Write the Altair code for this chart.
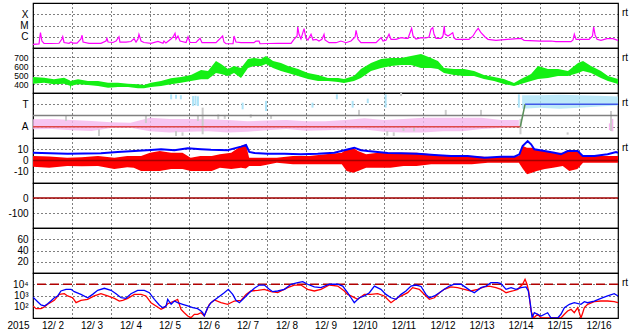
import altair as alt
import pandas as pd

FONT = "Liberation Sans"
FS = 10
W, H = 585, 45

# ---------------- data (hours since 2015-12-02 00:00 UT) ----------------
DAY_TICKS = list(range(0, 360, 24))

# GOES X-ray flux, log10 W/m^2
XRAY = [(0.0, -6.67), (3.7, -6.64), (4.3, -5.93), (4.6, -5.64), (5.5, -6.38), (6.8, -6.60), (11.1, -6.60),
        (16.0, -6.58), (17.8, -6.20), (18.3, -6.00), (19.1, -6.51), (22.2, -6.58), (23.4, -6.47), (24.6, -6.56),
        (27.1, -6.56), (29.5, -6.20), (30.2, -5.87), (30.8, -6.47), (34.5, -6.58), (41.8, -6.58), (44.9, -6.38),
        (45.5, -6.14), (46.2, -6.47), (49.2, -6.51), (51.1, -6.38), (52.9, -6.00), (53.5, -6.47), (57.2, -6.47),
        (60.3, -6.42), (62.2, -6.17), (63.4, -6.47), (64.6, -6.20), (65.2, -5.78), (66.5, -6.38), (68.3, -6.51),
        (72.6, -6.58), (76.9, -6.42), (80.0, -6.58), (80.6, -6.38), (81.8, -6.56), (84.9, -6.20), (86.2, -6.02),
        (87.4, -5.69), (88.0, -6.20), (89.2, -5.93), (90.5, -6.38), (94.2, -6.51), (95.4, -6.00), (96.6, -6.51),
        (100.3, -6.51), (102.8, -6.14), (104.0, -6.53), (112.6, -6.53), (116.7, -5.93), (117.5, -6.47),
        (118.8, -6.62), (123.1, -6.62), (123.7, -5.93), (124.9, -6.47), (128.0, -6.53), (136.0, -6.53),
        (137.2, -6.38), (139.1, -6.38), (139.7, -6.62), (150.8, -6.58), (158.8, -6.58), (160.6, -6.23),
        (162.5, -5.93), (162.9, -5.13), (163.7, -5.78), (164.9, -6.20), (166.8, -5.28), (168.0, -6.14),
        (169.2, -6.29), (171.1, -5.78), (172.3, -6.29), (174.2, -6.23), (176.0, -6.38), (177.8, -6.23),
        (179.1, -5.78), (179.7, -6.29), (182.2, -6.53), (186.5, -6.53), (189.5, -6.38), (192.6, -6.53),
        (195.7, -6.38), (198.2, -6.02), (198.8, -5.43), (200.0, -6.23), (201.8, -6.53), (211.1, -6.53),
        (214.2, -6.08), (215.4, -6.38), (217.2, -6.32), (219.1, -5.78), (220.3, -6.23), (223.4, -6.23),
        (226.5, -6.08), (229.5, -6.14), (230.8, -6.14), (233.0, -5.25), (233.9, -5.93), (235.7, -6.20),
        (238.8, -6.08), (241.8, -6.11), (243.7, -6.02), (244.9, -5.34), (246.0, -5.20), (246.8, -5.78),
        (248.0, -6.14), (251.1, -6.14), (252.3, -5.93), (253.1, -5.04), (253.5, -5.76), (255.4, -5.93),
        (257.2, -5.76), (258.3, -5.64), (259.1, -6.11), (260.3, -6.23), (268.3, -6.23), (270.8, -5.93),
        (272.6, -5.49), (274.0, -5.25), (275.7, -5.64), (278.2, -6.02), (280.0, -6.23), (284.9, -6.32),
        (300.3, -6.14), (302.2, -6.32), (312.6, -6.38), (318.8, -6.38), (321.8, -6.44), (331.1, -6.44),
        (332.3, -6.29), (333.1, -5.78), (334.2, -6.23), (342.2, -6.23), (344.3, -5.93), (345.0, -5.13),
        (345.9, -5.84), (347.1, -6.23), (349.5, -6.32), (353.2, -6.17), (356.9, -6.17), (360.0, -6.32)]

# solar wind speed km/s: (hour, low, high)
SPEED = [(0.0, 403, 478), (6.8, 414, 470), (12.9, 397, 452), (19.1, 403, 470), (22.8, 380, 440), (23.1, 325, 430),
         (23.5, 380, 435), (27.7, 397, 452), (33.8, 389, 433), (40.0, 378, 433), (46.2, 359, 414), (52.3, 367, 414),
         (58.5, 367, 403), (64.6, 352, 397), (68.3, 352, 389), (72.6, 367, 414), (78.8, 378, 433), (84.9, 397, 463),
         (91.1, 414, 478), (97.2, 433, 500), (103.4, 452, 555), (107.7, 452, 544), (112.6, 522, 656),
         (115.7, 511, 622), (120.0, 489, 567), (123.7, 522, 600), (128.0, 467, 578), (132.3, 578, 678),
         (136.0, 600, 689), (140.3, 600, 678), (143.4, 622, 711), (147.7, 578, 656), (152.6, 544, 633),
         (156.9, 522, 600), (163.1, 489, 567), (169.2, 456, 522), (175.4, 433, 500), (181.5, 433, 467),
         (187.7, 422, 467), (191.4, 411, 456), (197.5, 433, 489), (201.8, 467, 567), (208.0, 544, 633),
         (214.2, 578, 678), (220.3, 600, 689), (226.5, 611, 689), (232.6, 611, 711), (238.8, 578, 733),
         (244.9, 578, 689), (249.2, 567, 656), (252.9, 522, 578), (259.1, 500, 567), (265.2, 489, 567),
         (271.4, 489, 544), (277.5, 456, 500), (283.7, 433, 478), (289.8, 400, 456), (296.0, 378, 411),
         (300.3, 400, 456), (306.5, 433, 511), (310.8, 456, 600), (316.9, 467, 567), (323.1, 489, 567),
         (329.2, 489, 544), (335.4, 522, 633), (338.5, 544, 656), (343.4, 522, 600), (349.5, 467, 544),
         (353.8, 433, 489), (360.0, 400, 456)]

# IMF sector: away (A=1) / toward (T=3) scatter bands: (hour, low, high)
AWAY_BAND = [(0, 0.77, 1.66), (12, 0.8, 1.7), (24, 0.7, 1.6), (36, 0.62, 1.51), (48, 0.9, 1.4), (60, 0.92, 1.36),
             (72, 0.6, 1.8), (84, 0.5, 1.7), (96, 0.55, 1.7), (108, 0.6, 1.66), (120, 0.5, 1.6), (132, 0.55, 1.5),
             (144, 0.7, 1.55), (156, 0.8, 1.6), (168, 0.65, 1.5), (180, 0.7, 1.5), (192, 0.75, 1.6),
             (204, 0.75, 1.75), (216, 0.55, 1.6), (228, 0.5, 1.7), (240, 0.5, 1.8), (252, 0.6, 1.8),
             (264, 0.6, 1.8), (276, 0.8, 1.8), (288, 0.9, 1.6), (299, 1.0, 1.6)]
TOWARD_BAND = [(301, 2.6, 3.8), (312, 2.7, 3.8), (324, 2.6, 3.85), (336, 2.7, 3.8), (348, 2.8, 3.75),
               (360, 2.9, 3.7)]
TOWARD_PTS = [(85.0, 3.44, 3.88), (88.0, 3.5, 3.85), (91.0, 3.44, 3.8), (98.5, 2.84, 3.73), (100.0, 2.9, 3.75),
              (101.5, 2.84, 3.7), (129.0, 2.55, 3.14), (143.4, 2.4, 3.3), (172.0, 2.7, 3.14), (187.0, 3.44, 3.88),
              (196.7, 2.7, 3.3), (206.0, 3.1, 3.5), (217.0, 2.7, 3.88), (299.0, 2.7, 3.88)]
AWAY_PTS = [(355.0, 0.7, 1.3), (356.5, 0.6, 1.7)]
GRAY_PTS = [(20.3, 1.51, 1.96), (40.6, 0.18, 0.77), (69.5, 1.33, 1.96), (88.0, 0.18, 0.62), (92.0, 0.2, 0.5),
            (101.5, 1.51, 1.96), (104.4, 0.33, 2.7), (114.0, 1.66, 2.1), (118.0, 1.7, 2.05), (134.0, 1.8, 2.1),
            (146.5, 1.7, 2.0), (200.6, 1.96, 2.5), (218.0, 0.2, 0.62), (222.0, 0.18, 0.5), (226.5, 3.73, 4.0),
            (228.0, 0.62, 0.9), (234.5, 0.6, 0.9), (254.0, 1.96, 2.5), (275.7, 2.0, 2.5), (300.0, 0.33, 1.7),
            (329.0, 0.3, 0.5), (355.7, 0.62, 2.4)]
SECTOR_H = [0.0, 299.9, 302.8, 360.0]
SECTOR_S = [1, 1, 3, 3]

# IMF Bt (nT)
BT = [(0.0, 6.9), (21.3, 6.0), (41.8, 6.4), (52.1, 7.6), (62.4, 8.4), (72.6, 9.3), (78.8, 10.0), (87.0, 9.1),
      (95.2, 10.8), (103.4, 10.0), (109.5, 9.5), (119.8, 9.1), (123.9, 10.8), (128.0, 12.3), (131.1, 13.8),
      (133.1, 7.6), (136.2, 6.7), (144.4, 6.0), (154.7, 6.0), (164.9, 5.5), (175.2, 6.0), (185.4, 6.9),
      (191.6, 9.1), (197.7, 11.4), (201.8, 9.1), (206.0, 8.4), (212.1, 7.6), (218.3, 6.7), (226.5, 6.4),
      (236.7, 6.0), (247.0, 4.9), (257.2, 4.0), (267.5, 4.0), (277.7, 2.5), (288.0, 3.4), (296.2, 3.4),
      (299.3, 5.5), (301.3, 12.9), (304.4, 17.3), (306.5, 14.4), (308.5, 10.0), (314.7, 8.4), (320.8, 6.9),
      (324.9, 5.5), (329.0, 8.4), (335.2, 8.4), (338.3, 4.0), (345.4, 4.0), (353.6, 5.5), (358.8, 7.6),
      (360.0, 6.9)]
# IMF Bz range (nT): (hour, low, high)
BZ = [(0.0, -5.5, 4.0), (10.0, -6.4, 3.5), (21.0, -4.9, 2.5), (30.0, -5.0, 3.0), (40.0, -4.9, 4.0),
      (50.0, -7.6, 2.5), (58.0, -6.0, 4.0), (62.0, -6.4, 4.0), (66.5, -9.3, 4.0), (72.0, -9.3, 6.9),
      (78.0, -9.3, 8.4), (85.0, -7.6, 6.9), (92.0, -7.6, 6.9), (97.0, -9.3, 2.5), (103.0, -9.3, 4.0),
      (110.0, -9.3, 4.0), (115.0, -6.4, 5.5), (122.0, -7.6, 6.9), (128.0, -6.4, 12.9), (131.0, -7.0, 14.4),
      (133.0, -4.9, 2.5), (140.0, -4.9, 2.5), (150.0, -1.9, 2.5), (160.0, -3.4, 4.0), (170.0, -3.4, 4.0),
      (180.0, -3.4, 5.5), (190.0, -3.4, 6.9), (193.0, -9.3, 10.0), (197.0, -10.8, 11.4), (200.0, -9.3, 8.4),
      (205.0, -6.4, 5.5), (212.0, -6.4, 6.9), (220.0, -6.4, 6.9), (228.0, -4.9, 6.9), (236.0, -4.9, 6.9),
      (245.0, -3.4, 5.5), (255.0, -3.4, 4.0), (270.0, -3.4, 4.0), (280.0, -1.9, 3.1), (290.0, -1.9, 3.1),
      (299.0, -1.9, 4.0), (301.5, -7.6, 12.9), (304.0, -12.3, 11.4), (307.0, -10.8, 11.4), (310.0, -9.3, 10.0),
      (315.0, -7.6, 8.4), (320.0, -6.4, 6.9), (326.0, -4.9, 6.9), (330.0, -9.3, 8.4), (335.0, -7.6, 8.4),
      (338.5, -1.9, 4.0), (345.0, -1.9, 4.0), (352.0, -1.9, 4.0), (360.0, -1.9, 4.0)]

# >2 MeV electron flux, log10 (two satellites)
E_BLUE = [(0.0, 2.85), (2.87, 2.45), (4.93, 2.16), (6.98, 2.07), (9.03, 2.27), (11.0, 2.51), (13.1, 2.8),
          (15.2, 2.96), (17.2, 3.4), (20.3, 3.55), (23.4, 3.55), (25.4, 3.34), (29.5, 3.1), (33.6, 2.8),
          (36.7, 3.1), (39.8, 3.46), (43.9, 3.64), (48.0, 3.46), (51.1, 3.16), (54.2, 2.8), (57.2, 2.75),
          (60.3, 3.16), (64.4, 3.46), (68.5, 3.46), (71.6, 3.25), (74.7, 2.66), (77.7, 2.16), (79.8, 1.92),
          (81.9, 2.07), (82.9, 2.66), (85.0, 2.22), (87.0, 2.51), (89.0, 2.36), (92.1, 2.22), (95.2, 2.07),
          (98.3, 1.92), (101.3, 1.83), (103.4, 1.62), (104.4, 1.47), (105.4, 1.2), (107.5, 1.92), (109.5, 2.36),
          (113.6, 2.8), (117.7, 3.25), (120.2, 3.55), (122.9, 3.1), (124.9, 2.57), (127.0, 2.36), (130.1, 2.8),
          (133.1, 3.25), (136.2, 3.64), (139.3, 3.93), (142.4, 3.93), (145.4, 3.55), (147.5, 3.34), (150.6, 3.4),
          (154.7, 3.55), (158.8, 4.0), (162.9, 4.14), (166.0, 4.23), (169.0, 4.0), (173.1, 3.76), (177.2, 3.7),
          (182.4, 4.0), (187.5, 4.0), (190.6, 3.84), (193.6, 3.25), (195.7, 2.8), (197.7, 2.36), (200.8, 2.8),
          (203.9, 2.96), (207.0, 3.25), (210.1, 3.84), (214.1, 3.55), (217.2, 3.1), (220.3, 2.8), (223.4, 2.66),
          (226.5, 3.1), (229.5, 3.4), (232.6, 3.84), (235.7, 3.93), (238.8, 3.8), (241.8, 3.1), (243.9, 2.8),
          (247.0, 2.96), (250.1, 3.25), (253.1, 3.55), (256.2, 3.84), (259.3, 4.0), (263.4, 4.0), (266.5, 3.7),
          (269.5, 3.4), (271.6, 3.25), (275.7, 3.7), (278.8, 3.84), (281.8, 4.14), (285.9, 4.14), (288.0, 4.05),
          (291.1, 3.55), (294.2, 3.7), (297.2, 3.55), (300.3, 3.7), (303.4, 3.76), (304.8, 3.4), (306.1, 2.22),
          (307.1, 1.03), (308.5, 1.47), (312.6, 1.18), (316.7, 1.47), (318.8, 1.0), (322.9, 1.0), (324.9, 1.33),
          (327.0, 1.92), (330.1, 2.22), (333.1, 2.36), (337.2, 2.22), (339.3, 2.45), (341.3, 2.36), (345.4, 2.51),
          (349.5, 2.75), (353.6, 2.96), (357.7, 3.16), (360.0, 2.96)]
E_RED = [(0.0, 2.07), (1.85, 1.83), (4.93, 1.83), (6.98, 1.98), (9.03, 2.22), (13.1, 2.57), (16.2, 3.1),
         (19.3, 3.16), (21.3, 2.96), (24.4, 2.8), (26.5, 2.36), (29.5, 2.57), (33.6, 2.66), (37.7, 2.96),
         (41.8, 3.16), (45.9, 2.96), (50.1, 2.75), (53.1, 2.51), (55.2, 2.57), (58.3, 2.75), (62.4, 3.1),
         (66.5, 3.1), (69.5, 2.96), (72.6, 2.36), (75.7, 2.07), (78.8, 1.77), (80.8, 1.92), (82.9, 2.27),
         (87.0, 2.51), (89.0, 2.66), (91.1, 1.77), (93.1, 1.47), (95.2, 1.18), (97.2, 1.03), (99.3, 1.33),
         (101.3, 1.33), (103.4, 1.47), (105.4, 1.18), (108.5, 2.22), (111.6, 2.6), (115.7, 2.36), (119.8, 2.22),
         (123.9, 2.51), (128.0, 2.57), (131.1, 3.1), (134.1, 3.4), (138.3, 3.46), (142.4, 3.55), (146.5, 3.34),
         (150.6, 3.25), (156.7, 3.7), (160.8, 3.93), (164.9, 3.93), (169.0, 3.55), (173.1, 3.4), (177.2, 3.55),
         (182.4, 3.93), (187.5, 3.84), (191.6, 3.4), (193.6, 3.1), (195.7, 2.96), (199.8, 2.66), (203.9, 3.1),
         (208.0, 3.1), (212.1, 3.16), (216.2, 2.96), (220.3, 2.36), (224.4, 2.8), (228.5, 3.1), (230.6, 3.25),
         (233.6, 3.7), (237.7, 3.55), (241.8, 2.96), (243.9, 2.66), (247.0, 2.8), (250.1, 3.25), (253.1, 3.55),
         (257.2, 3.76), (261.3, 3.7), (265.4, 3.55), (269.5, 3.4), (273.6, 3.55), (277.7, 3.76), (280.8, 3.84),
         (284.9, 3.7), (288.0, 3.55), (291.1, 3.25), (295.2, 3.4), (298.3, 3.55), (301.3, 4.0), (302.8, 4.44),
         (304.0, 4.0), (305.0, 3.4), (306.5, 1.62), (308.1, 1.0), (310.6, 1.33), (312.6, 1.0), (324.9, 1.0),
         (327.0, 1.33), (329.0, 1.62), (331.1, 1.77), (333.1, 1.47), (335.2, 1.92), (337.2, 1.0), (338.3, 1.47),
         (339.3, 1.92), (341.3, 2.22), (345.4, 2.45), (349.5, 2.51), (353.6, 2.51), (357.7, 2.45), (360.0, 2.36)]

# ---------------- helpers ----------------
def df2(rows):
    return pd.DataFrame(rows, columns=["h", "v"])


def df3(rows):
    return pd.DataFrame(rows, columns=["h", "lo", "hi"])


def xenc(bottom=False):
    common = dict(values=DAY_TICKS, grid=True, gridDash=[1, 3], gridColor="black", gridOpacity=1,
                  gridWidth=1, ticks=False, domain=False)
    if bottom:
        ax = alt.Axis(**common, labelExpr="'12/' + (datum.value/24 + 2 < 10 ? ' ' : '') + (datum.value/24 + 2)",
                      labelOffset=19.5, labelPadding=2, labelFont=FONT, labelFontSize=FS, labelColor="black",
                      labelFlush=False, labelOverlap=False, labelAlign="center", labelBaseline="top",
                      titleX=-15, titleY=2, titleAlign="center", titleBaseline="top", titleFont=FONT,
                      titleFontSize=FS, titleFontWeight="normal", titleColor="black")
        return alt.X("h:Q", scale=alt.Scale(domain=[0, 360], nice=False, zero=False), axis=ax, title="2015")
    ax = alt.Axis(**common, labels=False)
    return alt.X("h:Q", scale=alt.Scale(domain=[0, 360], nice=False, zero=False), axis=ax, title=None)


def yaxis(values, expr, fs=FS):
    return alt.Axis(values=values, labelExpr=expr, grid=True, gridDash=[1, 3], gridColor="black", gridOpacity=1,
                    gridWidth=1, ticks=False, domain=False, labelPadding=5, minExtent=32, maxExtent=32,
                    labelFont=FONT, labelFontSize=fs, labelColor="black", labelOverlap=False, labelFlush=False,
                    labelBaseline="middle")


def yenc(field, domain, axis):
    return alt.Y(field, type="quantitative", scale=alt.Scale(domain=domain, nice=False, zero=False),
                 axis=axis, title=None)


RT = pd.DataFrame({"t": ["rt"]})


def rt_mark():
    return alt.Chart(RT).mark_text(align="left", baseline="middle", font=FONT, fontSize=10, color="black").encode(
        x=alt.value(W + 4), y=alt.value(10), text="t:N")


def hline(value, ydom, yax, color, width=1.5, dash=None):
    kw = dict(color=color, strokeWidth=width)
    if dash:
        kw["strokeDash"] = dash
    return alt.Chart(pd.DataFrame({"v": [value]})).mark_rule(**kw).encode(y=yenc("v", ydom, yax))


# ---------------- panel 1: X-ray ----------------
d1, a1 = [-7, -3], yaxis([-6, -5, -4], "datum.value == -6 ? 'C' : datum.value == -5 ? 'M' : 'X'")
p1 = alt.layer(
    alt.Chart(df2(XRAY)).mark_line(color="#ff00ff", strokeWidth=1.2, clip=True).encode(x=xenc(), y=yenc("v", d1, a1)),
    rt_mark(),
).properties(width=W, height=H)

# ---------------- panel 2: solar wind speed ----------------
d2, a2 = [300, 800], yaxis([400, 500, 600, 700], "datum.value", 8.5)
p2 = alt.layer(
    alt.Chart(df3(SPEED)).mark_area(color="#14f014", clip=True, opacity=1).encode(
        x=xenc(), y=yenc("hi", d2, a2), y2="lo"),
    rt_mark(),
).properties(width=W, height=H)

# ---------------- panel 3: IMF sector ----------------
d3, a3 = [0, 4], yaxis([1, 3], "datum.value == 1 ? 'A' : 'T'")
seg_rows = []
for i in range(3):
    seg_rows.append((SECTOR_H[i], SECTOR_S[i], i))
    seg_rows.append((SECTOR_H[i + 1], SECTOR_S[i + 1], i))
seg_df = pd.DataFrame(seg_rows, columns=["h", "v", "seg"])
p3 = alt.layer(
    alt.Chart(df3(AWAY_BAND)).mark_area(color="#f5b6ee", opacity=0.8, clip=True).encode(
        x=xenc(), y=yenc("hi", d3, a3), y2="lo"),
    alt.Chart(df3(TOWARD_BAND)).mark_area(color="#ade3f7", opacity=0.8, clip=True).encode(
        x=xenc(), y=yenc("hi", d3, a3), y2="lo"),
    alt.Chart(df3(TOWARD_PTS)).mark_rule(color="#ade3f7", strokeWidth=2, clip=True).encode(
        x=xenc(), y=yenc("hi", d3, a3), y2="lo"),
    alt.Chart(df3(AWAY_PTS)).mark_rule(color="#f5b6ee", strokeWidth=2, clip=True).encode(
        x=xenc(), y=yenc("hi", d3, a3), y2="lo"),
    alt.Chart(df3(GRAY_PTS)).mark_rule(color="#cccccc", strokeWidth=2, clip=True).encode(
        x=xenc(), y=yenc("hi", d3, a3), y2="lo"),
    hline(2, d3, a3, "#808080", 1.5),
    alt.Chart(seg_df).mark_line(strokeWidth=1.5, clip=True).encode(
        x=xenc(), y=yenc("v", d3, a3),
        color=alt.Color("seg:N", scale=alt.Scale(domain=[0, 1, 2], range=["#e04848", "#5a8f5a", "#4058e8"]),
                        legend=None),
        detail="seg:N"),
    rt_mark(),
).properties(width=W, height=H)

# ---------------- panel 4: IMF Bt / Bz ----------------
d4, a4 = [-20, 20], yaxis([-10, 0, 10], "datum.value")
p4 = alt.layer(
    alt.Chart(df3(BZ)).mark_area(color="#ff0000", clip=True).encode(x=xenc(), y=yenc("hi", d4, a4), y2="lo"),
    hline(0, d4, a4, "#a00000", 1.5),
    alt.Chart(df2(BT)).mark_line(color="#0000ff", strokeWidth=2, clip=True).encode(x=xenc(), y=yenc("v", d4, a4)),
    rt_mark(),
).properties(width=W, height=H)

# ---------------- panel 5: Dst (only the zero line) ----------------
d5, a5 = [-200, 100], yaxis([-100, 0], "datum.value")
p5 = alt.Chart(pd.DataFrame({"h": [0.0, 360.0], "v": [0, 0]})).mark_line(
    color="#a00000", strokeWidth=1.5).encode(x=xenc(), y=yenc("v", d5, a5)).properties(width=W, height=H)

# ---------------- panel 6: empty ----------------
d6, a6 = [0, 80], yaxis([20, 40, 60], "datum.value")
p6 = alt.Chart(pd.DataFrame({"h": [0.0], "v": [-10]})).mark_point(opacity=0, clip=True).encode(
    x=xenc(), y=yenc("v", d6, a6)).properties(width=W, height=H)

# ---------------- panel 7: electron flux ----------------
d7, a7 = [1, 5], yaxis([2, 3, 4], "'10' + (datum.value == 2 ? '²' : datum.value == 3 ? '³' : '⁴')")
p7 = alt.layer(
    hline(4, d7, a7, "#b00000", 1.5, [9, 4]),
    alt.Chart(df2(E_RED)).mark_line(color="#ff0000", strokeWidth=1.3, clip=True).encode(
        x=xenc(True), y=yenc("v", d7, a7)),
    alt.Chart(df2(E_BLUE)).mark_line(color="#0000ff", strokeWidth=1.3, clip=True).encode(
        x=xenc(True), y=yenc("v", d7, a7)),
    rt_mark(),
).properties(width=W, height=H)

chart = alt.vconcat(p1, p2, p3, p4, p5, p6, p7, spacing=0, bounds="flush").properties(
    padding={"left": 0, "top": 2, "right": 0, "bottom": 0}, background="white"
).configure_view(stroke="black", strokeWidth=1.2)

chart.save("out.html", embed_options={"renderer": "svg", "actions": False})
